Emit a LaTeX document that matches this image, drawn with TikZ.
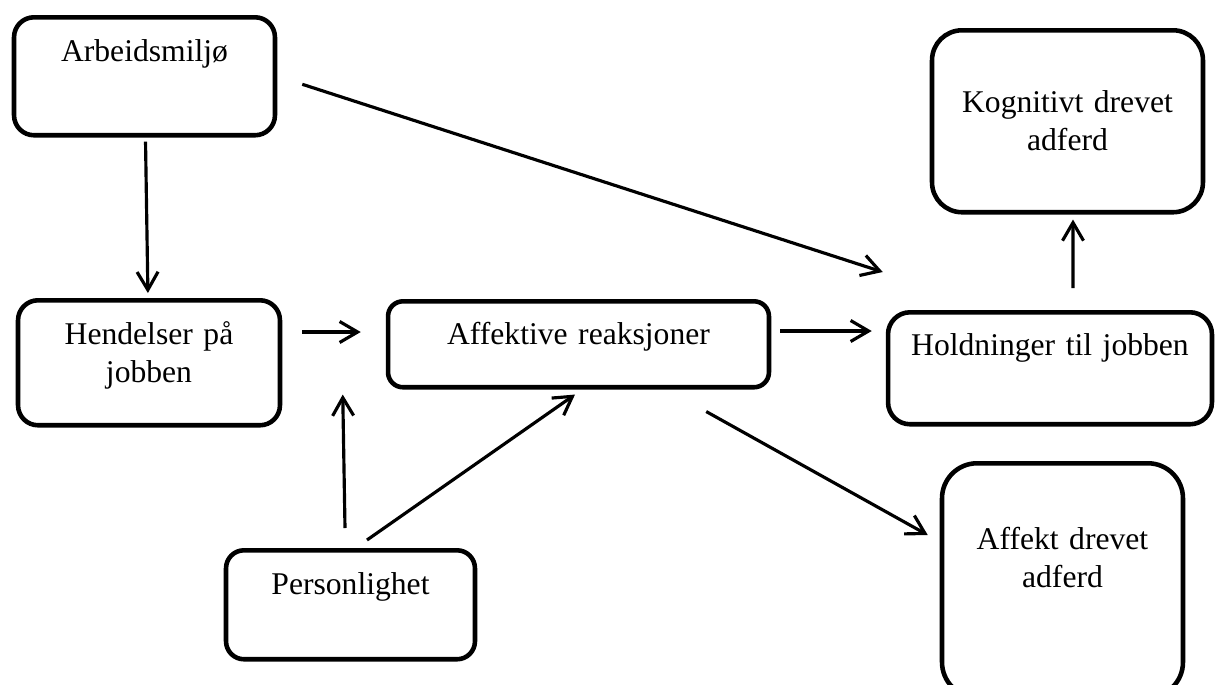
\documentclass[tikz,border=0pt]{standalone}
\usepackage{fontspec}
\setmainfont{Liberation Serif}
\usetikzlibrary{arrows.meta}
\tikzset{
	box/.style={
		draw,
		rectangle,
		line width=2.6pt,
		inner sep=0pt,
		anchor=north,
		align=center,
		font=\fontsize{18}{21.5}\selectfont
	},
	link/.style={
		->,
		line width=1.8pt
	},
}

\begin{document}
\begin{tikzpicture}[x=0.02cm, y=-0.02cm, >={Straight Barb[length=0.36cm,width=0.42cm]}]
\useasboundingbox (0,0) rectangle (1215,684);
\clip (0,0) rectangle (1215,684);

\node[box, text width=5.22cm, text height=0.88cm, text depth=1.48cm, rounded corners=0.4cm] (arbeid) at (144.5,15) {Arbeidsmiljø};
	\node[box, text width=5.24cm, text height=0.88cm, text depth=1.62cm, rounded corners=0.4cm] (hendelser) at (149,298) {Hendelser på\\jobben};
	\node[box, text width=7.62cm, text height=0.86cm, text depth=0.86cm, rounded corners=0.3cm] (affektive) at (578.5,299) {Affektive reaksjoner};
	\node[box, text width=4.98cm, text height=0.88cm, text depth=1.30cm, rounded corners=0.36cm] (personlighet) at (350.5,548) {Personlighet};
		\node[box, text width=6.48cm, text height=0.86cm, text depth=1.38cm, rounded corners=0.44cm] (holdninger) at (1050,310) {Holdninger til jobben};
			\node[box, text width=5.42cm, text height=1.64cm, text depth=2.00cm, rounded corners=0.6cm] (kognitivt) at (1067.5,28) {Kognitivt drevet\\adferd};
			\node[box, text width=4.82cm, text height=1.72cm, text depth=2.96cm, rounded corners=0.7cm] (affekt) at (1062.5,461) {Affekt drevet\\adferd};

\draw[link, shorten <=0.08cm, shorten >=0.1cm] (arbeid) -- (hendelser);
\draw[link] ([shift={(25,8)}]arbeid.east) -- ([shift={(-3,-38)}]holdninger.north west);
\draw[link] ([shift={(23,-22)}]holdninger.north) -- ([shift={(5.5,5)}]kognitivt.south);
\draw[link] ([shift={(20,34)}]hendelser.north east) -- ([shift={(-25,33)}]affektive.north west);
\draw[link] ([shift={(9,32)}]affektive.north east) -- ([shift={(-14,21)}]holdninger.north west);
\draw[link] ([shift={(-5.5,-20)}]personlighet.north) -- ([shift={(-43,5)}]affektive.south west);
\draw[link] ([shift={(16.5,-8)}]personlighet.north) -- ([shift={(-3.5,5)}]affektive.south);
\draw[link] ([shift={(-65,22)}]affektive.south east) -- ([shift={(-12,74)}]affekt.north west);

\end{tikzpicture}
\end{document}
